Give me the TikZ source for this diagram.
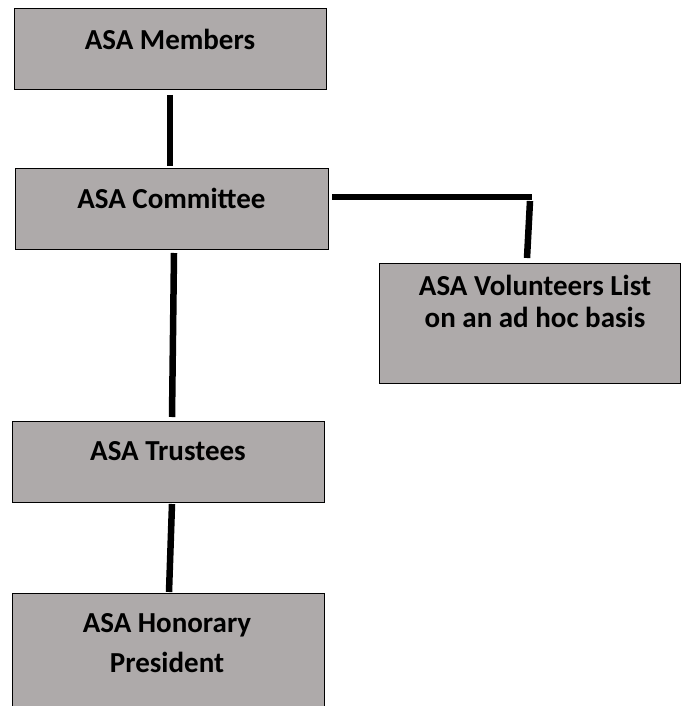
\documentclass[tikz,border=0pt]{standalone}
\usepackage{fontspec}
\setmainfont{Carlito}
\definecolor{boxgray}{RGB}{174,170,170}
\tikzset{
  orgbox/.style={draw=black, line width=1.4pt, fill=boxgray, inner sep=0pt, anchor=north west},
  orgtext/.style={font=\bfseries\fontsize{29}{32}\selectfont, anchor=base, inner sep=0pt, align=center},
  link/.style={line width=6.5pt, line cap=butt}
}
\begin{document}
\begin{tikzpicture}[x=1pt,y=-1pt]
\useasboundingbox (0,0) rectangle (681,706);
% boxes
\node[orgbox, minimum width=312pt, minimum height=81pt] (members) at (14,8) {};
\node[orgbox, minimum width=313pt, minimum height=81pt] (committee) at (15,168) {};
\node[orgbox, minimum width=301pt, minimum height=120pt] (volunteers) at (379,263) {};
\node[orgbox, minimum width=312pt, minimum height=81pt] (trustees) at (12,421) {};
\node[orgbox, minimum width=312pt, minimum height=120pt] (honorary) at (12,593) {};
% texts
\node[orgtext] (tmembers) at (170,50) {ASA Members};
\node[orgtext] (tcommittee) at (171.5,208) {ASA Committee};
\node[orgtext] (tvolunteers) at (535,327) {ASA Volunteers List\\on an ad hoc basis};
\node[orgtext] (ttrustees) at (168,460) {ASA Trustees};
\node[orgtext, font=\bfseries\fontsize{29}{40}\selectfont] (thonorary) at (167,672) {ASA Honorary\\President};
% connector ends
\coordinate (m1) at (170,95);
\coordinate (m2) at (170,166);
\coordinate (c1) at (174,253);
\coordinate (c2) at (172,417);
\coordinate (h1) at (332,197);
\coordinate (h2) at (532,197);
\coordinate (v1) at (530,201);
\coordinate (v2) at (527,258);
\coordinate (t1) at (172,504);
\coordinate (t2) at (169,592);
% connectors
\draw[link] (m1) -- (m2);
\draw[link] (c1) -- (c2);
\draw[link] (h1) -- (h2);
\draw[link] (v1) -- (v2);
\draw[link] (t1) -- (t2);
\end{tikzpicture}
\end{document}
